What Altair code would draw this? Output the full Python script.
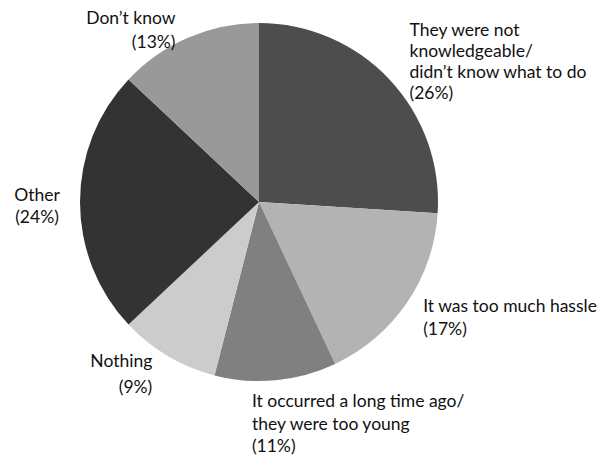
import altair as alt
import pandas as pd

categories = [
    "They were not knowledgeable/didn't know what to do",
    "It was too much hassle",
    "It occurred a long time ago/they were too young",
    "Nothing",
    "Other",
    "Don't know",
]
values = [26, 17, 11, 9, 24, 13]
labels = [
    "They were not\nknowledgeable/\ndidn\u2019t know what to do\n\u2002(26%)",
    "It was too much hassle\n\u2002(17%)",
    "It occurred a long time ago/\nthey were too young\n\u2002(11%)",
    "Nothing\n(9%)",
    "Other\n(24%)",
    "Don\u2019t know\n(13%)",
]
colors = ["#4d4d4d", "#b3b3b3", "#808080", "#cccccc", "#333333", "#999999"]

# per-label text styling: alignment, nudge from the polar anchor, line height
label_style = [
    ("left", 12, -41, 21),
    ("left", 7, -2, 23.5),
    ("left", -25, 11, 22.5),
    ("right", -10, -4, 26),
    ("center", -32, -6, 22),
    ("right", -8, -9, 24),
]

df = pd.DataFrame({"category": categories, "value": values, "idx": list(range(len(values))), "label": labels})
cum = df["value"].cumsum()
df["mid"] = cum - df["value"] / 2

theta_scale = alt.Scale(domain=[0, 100])
cx, cy = 251, 194

base = alt.Chart(df)

pie = base.mark_arc(radius=179).encode(
    theta=alt.Theta("value:Q", stack=True, scale=theta_scale),
    color=alt.Color("category:N", scale=alt.Scale(domain=categories, range=colors), legend=None),
    order=alt.Order("idx:Q"),
    x=alt.value(cx),
    y=alt.value(cy),
)

layers = [pie]
for i, (align, dx, dy, lh) in enumerate(label_style):
    t = base.transform_filter(alt.datum.idx == i).mark_text(
        radius=190, align=align, baseline="middle", dx=dx, dy=dy,
        lineBreak="\n", lineHeight=lh, font="Lato", fontSize=17.5, color="#111111",
    ).encode(
        theta=alt.Theta("mid:Q", stack=False, scale=theta_scale),
        text="label:N",
        x=alt.value(cx),
        y=alt.value(cy),
    )
    layers.append(t)

chart = alt.layer(*layers).properties(
    width=592, height=448,
    autosize=alt.AutoSizeParams(type="none"),
    padding=0,
).configure_view(stroke=None)

chart.save("out.html", embed_options={"renderer": "svg", "actions": False})
